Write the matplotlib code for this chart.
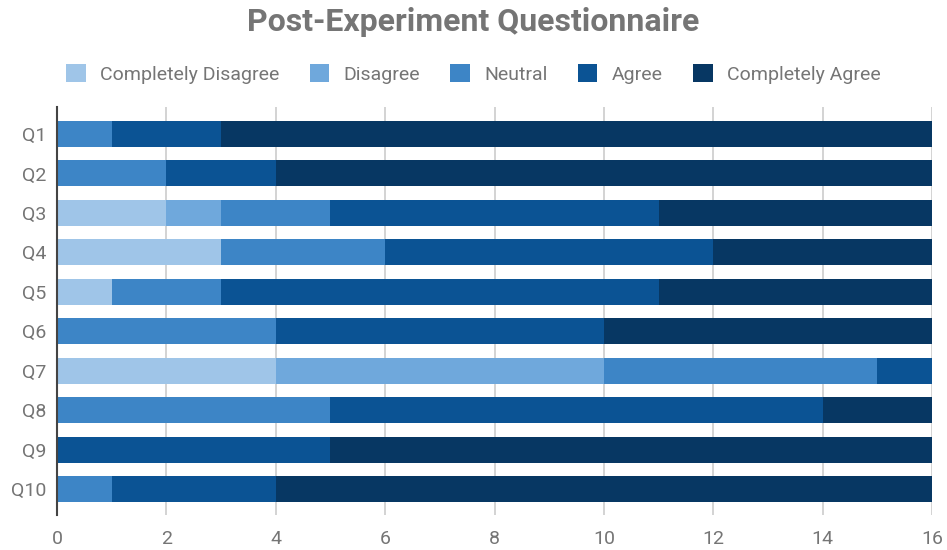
import matplotlib
matplotlib.use("Agg")
import matplotlib.pyplot as plt
import numpy as np

questions = ["Q1", "Q2", "Q3", "Q4", "Q5", "Q6", "Q7", "Q8", "Q9", "Q10"]
levels = ["Completely Disagree", "Disagree", "Neutral", "Agree", "Completely Agree"]
colors = ["#9fc5e8", "#6fa8dc", "#3d85c6", "#0b5394", "#073763"]

completely_disagree = [0, 0, 2, 3, 1, 0, 4, 0, 0, 0]
disagree            = [0, 0, 1, 0, 0, 0, 6, 0, 0, 0]
neutral             = [1, 2, 2, 3, 2, 4, 5, 5, 0, 1]
agree               = [2, 2, 6, 6, 8, 6, 1, 9, 5, 3]
completely_agree    = [13, 12, 5, 4, 5, 6, 0, 2, 11, 12]

series = [completely_disagree, disagree, neutral, agree, completely_agree]
xticks = [0, 2, 4, 6, 8, 10, 12, 14, 16]

plt.rcParams["font.family"] = ["Roboto", "DejaVu Sans"]
text_gray = "#757575"

W, H = 947, 550
fig = plt.figure(figsize=(W / 100, H / 100), dpi=100)
ax = fig.add_axes([57 / W, (H - 515) / H, (932 - 57) / W, (515 - 107) / H])

y = np.arange(len(questions))
left = np.zeros(len(questions))
for name, vals, col in zip(levels, series, colors):
    vals = np.array(vals, dtype=float)
    ax.barh(y, vals, left=left, height=0.66, color=col, label=name,
            edgecolor="none", zorder=3)
    left += vals

ax.set_xlim(0, 16)
ax.set_ylim(9.66, -0.685)
ax.set_xticks(xticks)
ax.set_xticklabels([str(t) for t in xticks])
ax.set_yticks(y)
ax.set_yticklabels(questions)
ax.grid(axis="x", color="#cccccc", linewidth=1.2, zorder=0)
ax.set_axisbelow(True)
for s in ["top", "right", "bottom"]:
    ax.spines[s].set_visible(False)
ax.spines["left"].set_color("#444444")
ax.spines["left"].set_linewidth(1.5)
ax.spines["left"].set_zorder(5)
ax.tick_params(axis="both", length=0, labelsize=14, labelcolor=text_gray)
ax.tick_params(axis="x", pad=11)
ax.tick_params(axis="y", pad=8)

fig.text(0.5, 1 - 22 / H, "Post-Experiment Questionnaire", ha="center", va="center",
         fontsize=23, fontweight="bold", color=text_gray)

leg = fig.legend(loc="center", bbox_to_anchor=(0.5, 1 - 74 / H), ncol=5,
                 frameon=False, fontsize=14, handlelength=1.0, handleheight=1.0,
                 handletextpad=0.75, columnspacing=1.55, labelcolor=text_gray)

fig.savefig("out.png", dpi=100)
